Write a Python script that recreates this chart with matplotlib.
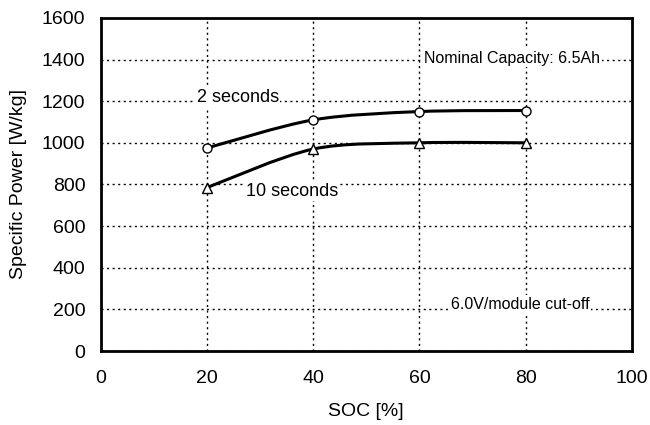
import numpy as np
import matplotlib.pyplot as plt
from matplotlib.path import Path
from matplotlib.patches import PathPatch

plt.rcParams['font.family'] = ['Liberation Sans', 'DejaVu Sans']

soc = [20, 40, 60, 80]
p_2s = [975, 1110, 1150, 1155]
p_10s = [785, 970, 1000, 1000]


def smooth_path(x, y, t=0.3):
    # Catmull-Rom style cubic bezier through the points
    x = np.asarray(x, float)
    y = np.asarray(y, float)
    verts = [(x[0], y[0])]
    codes = [Path.MOVETO]
    n = len(x)
    for i in range(n - 1):
        i0 = max(i - 1, 0)
        i3 = min(i + 2, n - 1)
        c1 = (x[i] + (x[i + 1] - x[i0]) * t / 2, y[i] + (y[i + 1] - y[i0]) * t / 2)
        c2 = (x[i + 1] - (x[i3] - x[i]) * t / 2, y[i + 1] - (y[i3] - y[i]) * t / 2)
        verts += [c1, c2, (x[i + 1], y[i + 1])]
        codes += [Path.CURVE4] * 3
    return Path(verts, codes)


fig, ax = plt.subplots(figsize=(6.5, 4.25), dpi=100)
fig.subplots_adjust(left=0.155, right=0.972, top=0.958, bottom=0.174)

for y, m in [(p_2s, 'o'), (p_10s, '^')]:
    ax.add_patch(PathPatch(smooth_path(soc, y), fill=False, lw=2.2, ec='black', zorder=3))
    ax.plot(soc, y, ls='none', marker=m, ms=6.5, mfc='white', mec='black', mew=1, zorder=4)

ax.set_xlim(0, 100)
ax.set_ylim(0, 1600)
ax.set_xticks(range(0, 101, 20))
ax.set_yticks(range(0, 1601, 200))
ax.grid(True, ls=(0, (1.5, 2.5)), color='black', lw=1)
ax.tick_params(length=0, labelsize=14)
ax.tick_params(axis='x', pad=14)
ax.tick_params(axis='y', pad=11)
for s in ax.spines.values():
    s.set_linewidth(2)
ax.set_xlabel('SOC [%]', fontsize=14, labelpad=11)
ax.set_ylabel('Specific Power [W/kg]', fontsize=14, labelpad=11)

box = dict(facecolor='white', edgecolor='none', pad=1)
ax.text(25.8, 1217, '2 seconds', fontsize=13, va='center', ha='center', bbox=box, zorder=5)
ax.text(36, 766, '10 seconds', fontsize=13, va='center', ha='center', bbox=box, zorder=5)
ax.text(77.5, 1385, 'Nominal Capacity: 6.5Ah', fontsize=11.5, va='baseline', ha='center', bbox=box, zorder=5)
ax.text(79, 203, '6.0V/module cut-off', fontsize=11.5, va='baseline', ha='center', bbox=box, zorder=5)

fig.savefig('out.png')
